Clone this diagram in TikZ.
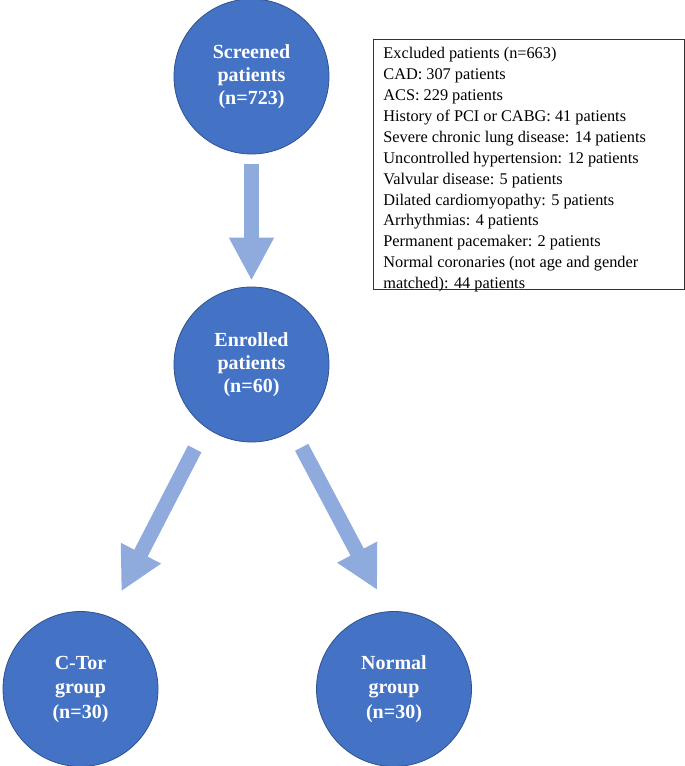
\documentclass[tikz,border=0pt]{standalone}
\usepackage{fontspec}
\setmainfont{Liberation Serif}
\usetikzlibrary{arrows.meta}
\definecolor{circblue}{HTML}{4472C4}
\definecolor{circedge}{HTML}{2F528F}
\definecolor{arrowblue}{HTML}{8FAADC}

\begin{document}
\begin{tikzpicture}[x=1pt,y=-1pt,
	group/.style={circle,fill=circblue,draw=circedge,line width=0.8pt,minimum size=155pt,inner sep=0pt,align=center,text=white,font=\fontsize{20}{23}\selectfont\bfseries},
	flow/.style={arrowblue,line width=15pt,-{Triangle[length=43pt,width=42pt]}}]
	\useasboundingbox (0,0) rectangle (685,766);

	\node[group] (screened) at (251.5,76.5) {Screened\\patients\\(n=723)};
	\node[group] (enrolled) at (251.5,364.5) {Enrolled\\patients\\(n=60)};
	\node[group,font=\fontsize{20}{24.5}\selectfont\bfseries] (ctor) at (80.5,689) {C-Tor\\group\\(n=30)};
	\node[group,font=\fontsize{20}{24.5}\selectfont\bfseries] (normal) at (394,689) {Normal\\group\\(n=30)};

	\node[draw=black!80,line width=0.8pt,anchor=north west,inner xsep=10pt,inner ysep=8pt,font=\fontsize{16.3}{20.9}\selectfont] (excluded) at (373,39)
		{\parbox[c][234pt][t]{291pt}{\raggedright
		Excluded patients (n=663)\\
		CAD: 307 patients\\
		ACS: 229 patients\\
		History of PCI or CABG: 41 patients\\
		Severe chronic lung disease: 14 patients\\
		Uncontrolled hypertension: 12 patients\\
		Valvular disease: 5 patients\\
		Dilated cardiomyopathy: 5 patients\\
		Arrhythmias: 4 patients\\
		Permanent pacemaker: 2 patients\\
		Normal coronaries (not age and gender matched): 44 patients}};

	\draw[flow,shorten <=10pt,shorten >=6pt] (screened) -- (enrolled);
	\draw[flow,shorten <=24pt,shorten >=28pt] (enrolled.234) -- (ctor.69);
	\draw[flow,shorten <=19pt,shorten >=24pt] (enrolled.302) -- (normal.94);
\end{tikzpicture}
\end{document}
